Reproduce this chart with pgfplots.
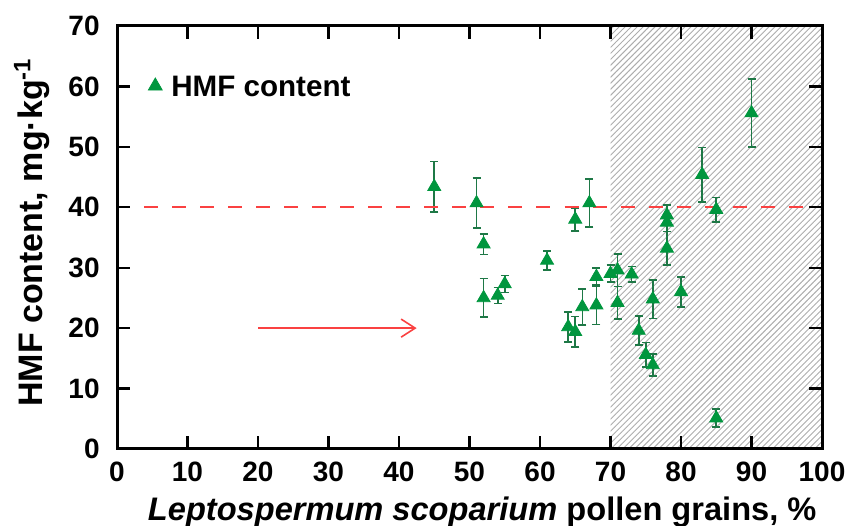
\documentclass[border=0pt]{standalone}
\usepackage{pgfplots}
\pgfplotsset{compat=1.18}
\usepackage{pgfplotstable}
\usepackage{fontspec}
\setmainfont{Liberation Sans}
\usetikzlibrary{patterns.meta,arrows.meta}
\definecolor{mk}{RGB}{0,150,62}
\definecolor{eb}{RGB}{30,120,70}
\definecolor{rl}{RGB}{250,65,65}

\pgfplotstableread{
x y e
45 43.4 4.2
51 40.7 4.1
52 33.9 1.7
52 25.0 3.2
54 25.4 1.3
55 27.3 1.4
61 31.2 1.6
64 20.2 2.5
65 19.4 2.5
65 38.0 1.9
66 23.5 3.0
67 40.7 4.0
68 28.5 1.4
68 23.8 3.2
70 29.0 1.4
71 29.6 2.7
71 24.2 2.7
73 28.9 1.3
74 19.6 2.4
75 15.6 2.0
76 24.8 3.2
76 13.9 1.8
78 38.7 1.7
78 37.5 1.5
78 33.2 2.8
80 26.0 2.5
83 45.4 4.5
85 39.6 2.0
85 5.1 1.5
90 55.6 5.6
}\data

\begin{document}
\begin{tikzpicture}
\begin{axis}[
  scale only axis,
  width=352.5bp, height=211.5bp,
  xmin=0, xmax=100, ymin=0, ymax=70,
  xtick={0,10,...,100}, ytick={0,10,...,70},
  tick align=inside,
  major tick length=6.5bp,
  tick style={black, line width=1.1bp},
  axis line style={line width=1.5bp},
  axis on top,
  /pgf/number format/assume math mode=true,
  ticklabel style={font=\fontsize{14bp}{16bp}\selectfont\bfseries},
  xticklabel style={inner sep=0pt, anchor=north, yshift=-6.3bp},
  yticklabel style={inner sep=0pt, anchor=east, xshift=-8.5bp},
  xlabel={\textbf{\textit{Leptospermum scoparium}} \textbf{pollen grains, \%}},
  ylabel={\textbf{HMF content, mg\textperiodcentered kg\textsuperscript{-1}}},
  xlabel style={font=\fontsize{16.3bp}{19bp}\selectfont, at={(axis description cs:0.518,-0.168)}, anchor=base},
  ylabel style={font=\fontsize{17bp}{19bp}\selectfont, at={(axis description cs:-0.105,0.512)}, anchor=base, rotate=0},
  legend style={draw=none, fill=none, at={(axis cs:4.1,59.8)}, anchor=west,
    font=\fontsize{14.8bp}{16bp}\selectfont\bfseries, inner sep=0pt,
    nodes={inner xsep=3.5bp, inner ysep=0pt}},
  legend cell align=left,
  legend image code/.code={\path[draw=none] (-4.5bp,0) -- (4.5bp,0);
    \draw[mk, fill=mk, solid] plot[mark=triangle*, mark size=4bp] coordinates {(0bp,0.8bp)};},
]
\coordinate (sw) at (rel axis cs:0,0);
\coordinate (ne) at (rel axis cs:1,1);
\addplot[draw=none, pattern={Lines[angle=45, distance=2.12bp, line width=0.45bp]}, pattern color=black!32, forget plot]
  coordinates {(70,0) (100,0) (100,70) (70,70)} -- cycle;
\addplot[only marks, mark=triangle*, mark size=3.75bp, mark options={draw=mk, fill=mk},
  error bars/.cd, y dir=both, y explicit,
  error bar style={eb, line width=0.8bp},
  error mark options={rotate=90, mark size=2bp, eb, line width=0.8bp},
  ] table[x=x, y=y, y error=e] {\data};
\addlegendentry{HMF content}
\addplot[draw=rl, dash pattern=on 7bp off 7bp, line width=1bp, forget plot, mark=none]
  coordinates {(3.9,40) (98,40)};
\addplot[draw=rl, line width=0.8bp, forget plot, mark=none,
  -{Straight Barb[length=7bp, width=9bp, line width=0.8bp]}]
  coordinates {(20,20) (42.5,20)};
\end{axis}
\pgfresetboundingbox
\path ([xshift=-58.5bp,yshift=-38.5bp]sw) rectangle ([xshift=11.5bp,yshift=13bp]ne);
\end{tikzpicture}
\end{document}
